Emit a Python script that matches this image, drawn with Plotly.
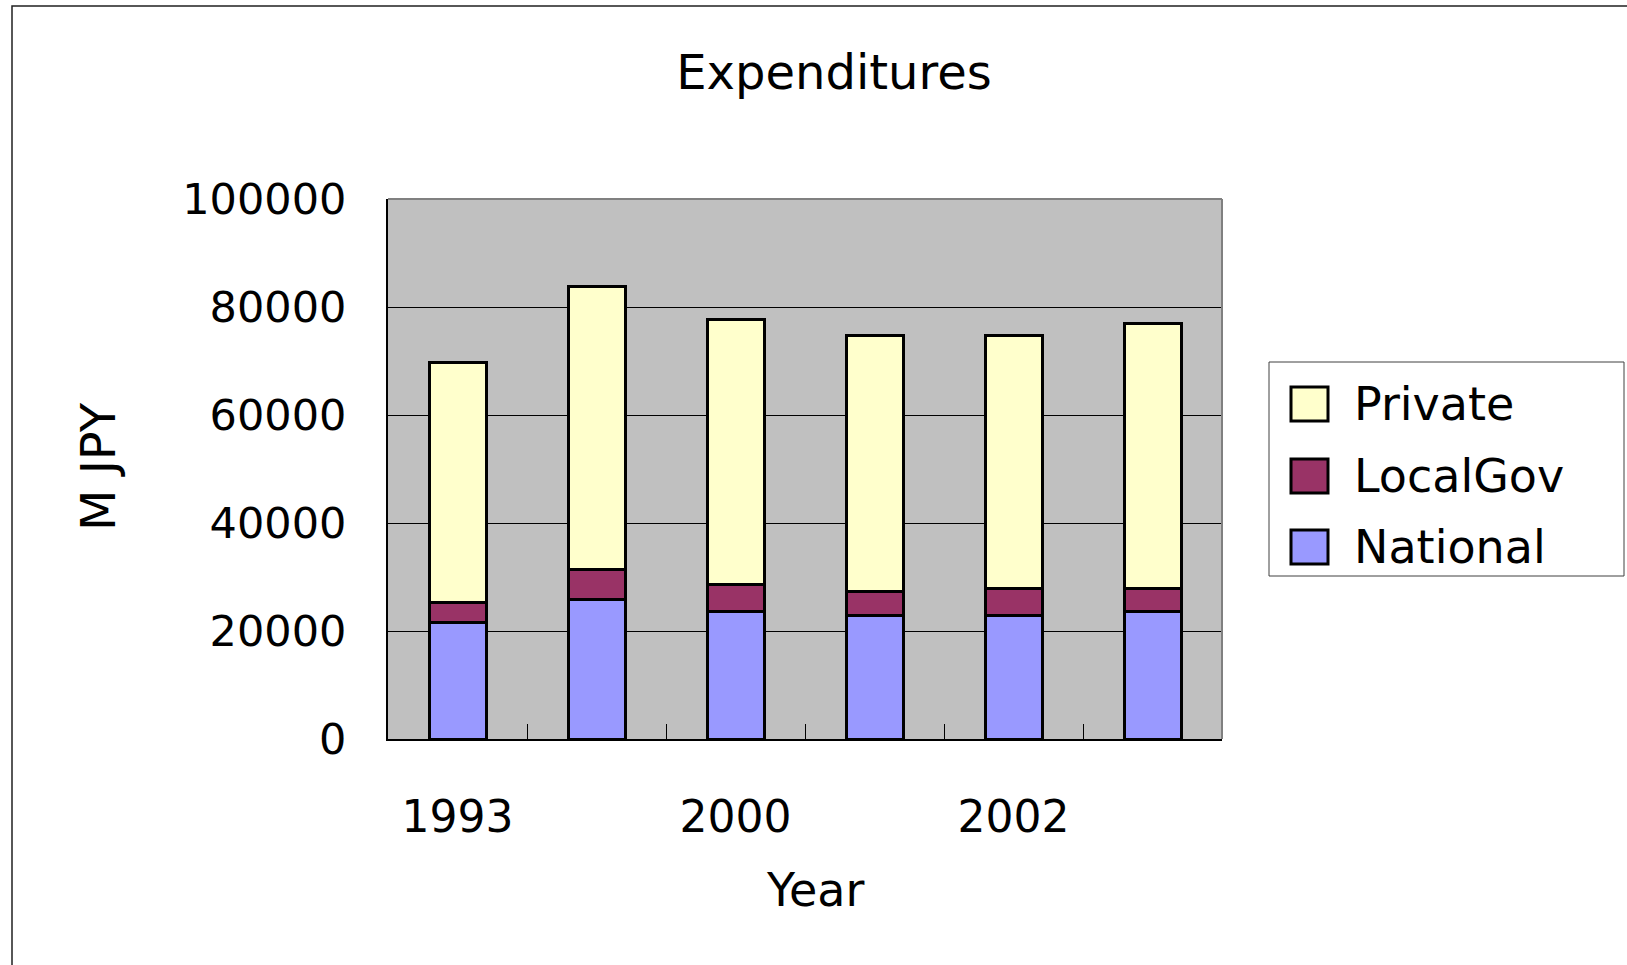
import plotly.graph_objects as go

# Stacked expenditure data (million JPY)
years = ["1993", "1999", "2000", "2001", "2002", "2003"]
tick_text = ["1993", "", "2000", "", "2002", ""]
y_ticks = [0, 20000, 40000, 60000, 80000, 100000]
y_tick_text = ["0", "20000", "40000", "60000", "80000", "100000"]
national = [21600, 25900, 23700, 22900, 22900, 23700]
local_gov = [3600, 5500, 4900, 4400, 5000, 4200]
private = [44600, 52400, 49000, 47500, 46900, 49100]

series_names = ["National", "LocalGov", "Private"]
series_values = [national, local_gov, private]
series_colors = ["#9999FF", "#993366", "#FFFFCC"]

W, H = 1627, 965
L, R, T, B = 388, 405, 199, 226
PW, PH = W - L - R, H - T - B

FONT = "DejaVu Sans"


def px_x(px):
    return (px - L) / PW


def px_y(py):
    return (H - B - py) / PH


fig = go.Figure()
for name, vals, col in zip(series_names, series_values, series_colors):
    fig.add_trace(go.Bar(
        x=years, y=vals, name=name,
        marker=dict(color=col, line=dict(color="black", width=3)),
        showlegend=False,
    ))

shapes = [
    # outer chart frame
    dict(type="rect", xref="paper", yref="paper",
         x0=px_x(12), x1=px_x(1700), y0=px_y(1050), y1=px_y(6),
         line=dict(color="#202020", width=1.5), layer="below"),
    # gray top/right plot frame
    dict(type="line", xref="paper", yref="paper", x0=0, x1=1, y0=1, y1=1,
         line=dict(color="#808080", width=2)),
    dict(type="line", xref="paper", yref="paper", x0=1, x1=1, y0=0, y1=1,
         line=dict(color="#808080", width=2)),
]

annotations = []
# legend drawn as boxed swatches, top entry = last stacked series
shapes.append(dict(type="rect", xref="paper", yref="paper",
                   x0=px_x(1269), x1=px_x(1624), y0=px_y(576), y1=px_y(362),
                   line=dict(color="#404040", width=1), fillcolor="white"))
entry_y = [547, 476, 404]
for name, col, cy in zip(series_names, series_colors, entry_y):
    shapes.append(dict(type="rect", xref="paper", yref="paper",
                       x0=px_x(1291), x1=px_x(1328),
                       y0=px_y(cy + 17), y1=px_y(cy - 17),
                       line=dict(color="black", width=3), fillcolor=col))
    annotations.append(dict(text=name, xref="paper", yref="paper",
                            x=px_x(1352), y=px_y(cy), xanchor="left",
                            yanchor="middle", showarrow=False,
                            font=dict(family=FONT, size=46, color="black")))

# axis titles
annotations.append(dict(text="M JPY", xref="paper", yref="paper",
                        x=px_x(98), y=px_y(467), textangle=-90,
                        xanchor="center", yanchor="middle", showarrow=False,
                        font=dict(family=FONT, size=48, color="black")))
annotations.append(dict(text="Year", xref="paper", yref="paper",
                        x=px_x(815), y=px_y(890), xanchor="center",
                        yanchor="middle", showarrow=False,
                        font=dict(family=FONT, size=46, color="black")))

fig.update_layout(
    width=W, height=H,
    margin=dict(l=L, r=R, t=T, b=B, autoexpand=False),
    barmode="stack", bargap=0.59,
    paper_bgcolor="white", plot_bgcolor="#C0C0C0",
    title=dict(text="Expenditures", x=834 / W, y=1 - 72 / H,
               xanchor="center", yanchor="middle",
               font=dict(family=FONT, size=48, color="black")),
    shapes=shapes, annotations=annotations,
    xaxis=dict(
        tickvals=years, ticktext=tick_text,
        ticks="inside", tickson="boundaries", ticklen=15,
        tickcolor="black", tickwidth=1,
        showline=True, linecolor="black", linewidth=2,
        showgrid=False, ticklabelstandoff=38,
        tickfont=dict(family=FONT, size=44, color="black"),
    ),
    yaxis=dict(
        range=[0, 100000], tickvals=y_ticks, ticktext=y_tick_text,
        ticks="inside", ticklen=10, tickcolor="black", tickwidth=1,
        showline=True, linecolor="black", linewidth=2,
        showgrid=True, gridcolor="black", gridwidth=1,
        zeroline=False, ticklabelstandoff=31,
        tickfont=dict(family=FONT, size=43, color="black"),
    ),
)

fig.write_html("out.html")
